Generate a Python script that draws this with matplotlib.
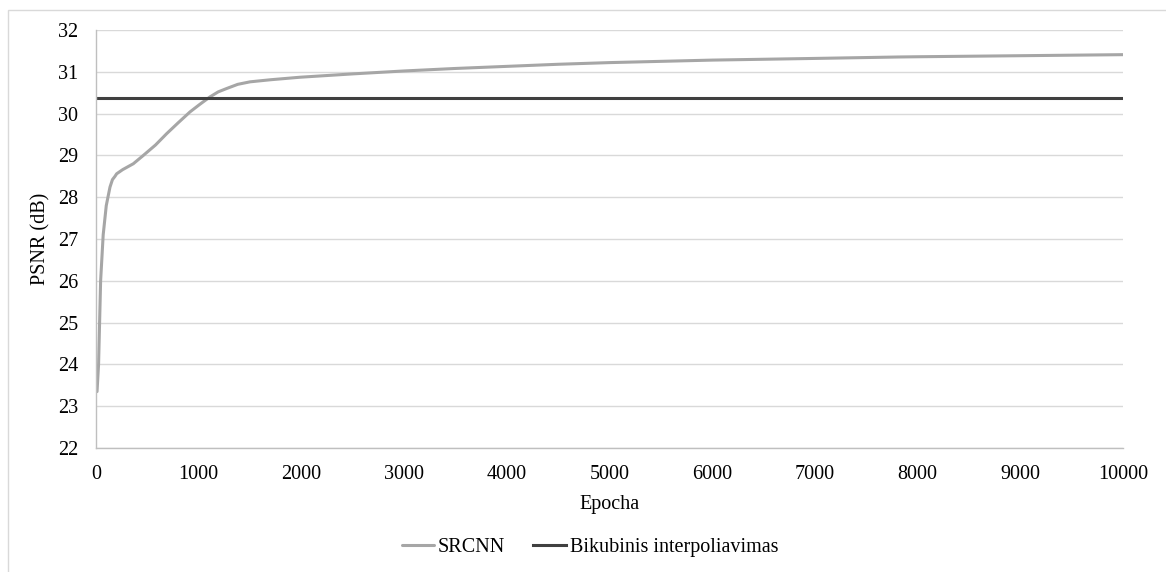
import matplotlib
matplotlib.use("Agg")
import matplotlib.pyplot as plt
from matplotlib.patches import Rectangle

epochs = [10, 25, 35, 45, 70, 100, 136, 160, 185, 201, 260, 363, 461, 580, 688, 800, 915, 1010, 1110, 1190, 1272, 1380,
          1500, 1700, 1986, 2500, 3000, 3500, 4000, 4500, 5000, 6000, 7000, 7829, 8000, 9000, 10000]
srcnn = [23.35, 24.0, 25.0, 26.0, 27.1, 27.8, 28.24, 28.42, 28.5, 28.56, 28.66, 28.8, 29.0, 29.25, 29.52, 29.78, 30.04,
         30.22, 30.4, 30.52, 30.6, 30.7, 30.76, 30.81, 30.87, 30.95, 31.02, 31.08, 31.13, 31.18, 31.22, 31.28,
         31.32, 31.355, 31.36, 31.385, 31.41]
bicubic_value = 30.38

plt.rcParams['font.family'] = ['Liberation Serif', 'DejaVu Serif']

fig = plt.figure(figsize=(11.66, 5.72), dpi=100)
fig.patches.append(Rectangle((7.5/1166, -0.1), 1.2, 1 - 10/572 + 0.1, transform=fig.transFigure,
                             fill=False, edgecolor='#D9D9D9', linewidth=1.0))
ax = fig.add_axes([96/1166, 1 - 448/572, (1123-96)/1166, (448-30)/572])

ax.plot(epochs, srcnn, color='#A6A6A6', linewidth=2.2, label='SRCNN', solid_capstyle='round')
ax.plot([0, 10000], [bicubic_value, bicubic_value], color='#404040', linewidth=2.2, label='Bikubinis interpoliavimas')

ax.set_xlim(0, 10000)
ax.set_ylim(22, 32)
ax.set_xticks(range(0, 10001, 1000))
ax.set_yticks(range(22, 33))
ax.grid(axis='y', color='#D9D9D9', linewidth=1.0)
ax.set_axisbelow(True)
for s in ['top', 'right']:
    ax.spines[s].set_visible(False)
for s in ['left', 'bottom']:
    ax.spines[s].set_color('#BFBFBF')
    ax.spines[s].set_linewidth(1.0)
ax.tick_params(axis='both', length=0, labelsize=14.5, colors='#000000')
ax.tick_params(axis='y', pad=13)
ax.tick_params(axis='x', pad=12)
ax.set_xlabel('Epocha', fontsize=14.5, labelpad=8)
ax.set_ylabel('PSNR (dB)', fontsize=14.5, labelpad=5)

leg = fig.legend(loc='center', bbox_to_anchor=(590/1166, 1 - 547/572), ncol=2, frameon=False,
                 fontsize=14.5, handlelength=1.6, handletextpad=0.2, columnspacing=1.4)

fig.savefig('out.png', dpi=100)
